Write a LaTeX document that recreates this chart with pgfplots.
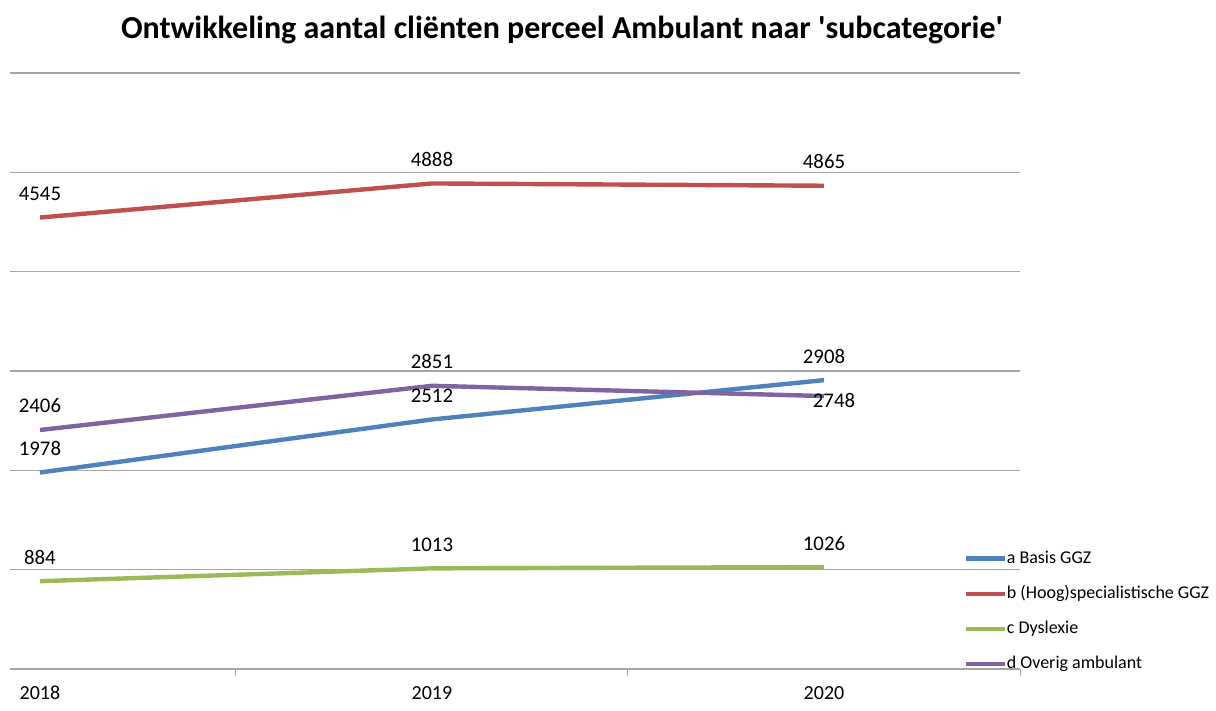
\documentclass[border=0pt]{standalone}
\usepackage{pgfplots}
\pgfplotsset{compat=1.18}
\usepackage{pgfplotstable}
\usepackage{fontspec}
\setmainfont{Carlito}
\definecolor{sBlue}{HTML}{4F81BD}
\definecolor{sRed}{HTML}{C0504D}
\definecolor{sGreen}{HTML}{9BBB59}
\definecolor{sPurple}{HTML}{8064A2}
\definecolor{gridc}{HTML}{A6A6A6}
\pgfplotstableread{
x a b c d
0 1978 4545 884 2406
1 2512 4888 1013 2851
2 2908 4865 1026 2748
}\datatab
\pgfplotstableread{
x d
0 2406
1 2851
}\dlabA
\pgfplotstableread{
x d
2 2748
}\dlabB
\begin{document}
\begin{tikzpicture}
\useasboundingbox (0,0) rectangle (608pt,355.5pt);
\begin{axis}[
  at={(5pt,21pt)}, anchor=south west,
  scale only axis, width=505pt, height=298pt,
  xmin=-0.0764, xmax=2.5, ymin=0, ymax=6000,
  axis x line*=bottom, axis y line*=left,
  x axis line style={draw=gridc, line width=0.7pt},
  y axis line style={draw=none},
  ytick={1000,2000,3000,4000,5000,6000}, yticklabels={},
  ymajorgrids, grid style={draw=gridc, line width=0.7pt},
  xtick={0,1,2}, xticklabels={2018,2019,2020},
  minor xtick={0.5,1.5,2.5},
  major tick length=0pt, minor tick length=3.5pt,
  tick align=outside,
  minor tick style={draw=gridc, line width=0.5pt},
  xticklabel style={font=\fontsize{10}{12}\selectfont, anchor=center, yshift=-12pt},
  title={\textbf{Ontwikkeling aantal cliënten perceel Ambulant naar \textquotesingle subcategorie\textquotesingle}},
  title style={font=\fontsize{16}{19}\selectfont, at={(0.5465,1)}, anchor=center, yshift=15.5pt},
  /pgf/number format/assume math mode=true,
  /pgf/number format/1000 sep={},
  every node near coord/.style={font=\fontsize{10.4}{12}\selectfont, anchor=center, yshift=12pt, text=black},
  legend style={at={(0.9436,0.1988)}, anchor=north west, draw=none, fill=none,
    inner sep=0pt, font=\fontsize{9}{11}\selectfont, row sep=9.7pt,
    nodes={inner sep=0pt, anchor=west}},
  legend cell align=left,
  legend image code/.code={\draw[#1, line width=2.2pt] (0pt,0pt) -- (19.5pt,0pt);},
  clip=false,
]
\addplot[sBlue, line width=2.2pt, nodes near coords] table[x=x, y=a] {\datatab};
\addlegendentry{a Basis GGZ}
\addplot[sRed, line width=2.2pt, nodes near coords] table[x=x, y=b] {\datatab};
\addlegendentry{b (Hoog)specialistische GGZ}
\addplot[sGreen, line width=2.2pt, nodes near coords] table[x=x, y=c] {\datatab};
\addlegendentry{c Dyslexie}
\addplot[sPurple, line width=2.2pt] table[x=x, y=d] {\datatab};
\addlegendentry{d Overig ambulant}
\addplot[draw=none, forget plot, nodes near coords] table[x=x, y=d] {\dlabA};
\addplot[draw=none, forget plot, nodes near coords,
  every node near coord/.append style={yshift=-14pt, xshift=5pt}] table[x=x, y=d] {\dlabB};
\end{axis}
\end{tikzpicture}
\end{document}
